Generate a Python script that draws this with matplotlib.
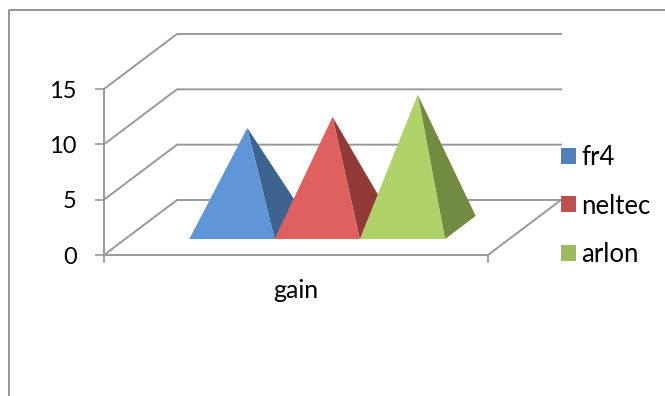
import matplotlib
matplotlib.use('Agg')
import matplotlib.pyplot as plt
from matplotlib.lines import Line2D
from matplotlib.patches import Patch, Polygon

# ----------------------- DATA -----------------------
categories = ['gain']
series_names = ['fr4', 'neltec', 'arlon']
series_values = [9, 10, 12]
value_ticks = [0, 5, 10, 15]

# ----------------------- STYLE ----------------------
legend_colors = ['#4f81bd', '#c0504d', '#9bbb59']
front_colors = ['#5f96d8', '#df605e', '#afd268']
side_colors = ['#3d6490', '#923a38', '#718b41']
grid_color = '#999999'
frame_color = '#8c8c8c'

W, H = 665, 396
plt.rcParams['font.family'] = ['Lato', 'DejaVu Sans']

fig = plt.figure(figsize=(W / 100, H / 100), dpi=100)
ax = fig.add_axes([104 / W, 1 - 255 / H, 384 / W, 166 / H])
ax.set_xlim(0, 1)
ax.set_ylim(0, 15)
ax.patch.set_visible(False)

# oblique depth offset of the 3d box, in data units
depth_x = 73 / 384
depth_y = 55 / (166 / 15)


def project(x, y, d):
    return x + d * depth_x, y + d * depth_y


# outer chart frame, runs off the right and bottom edges
fig.add_artist(Line2D([9 / W, 9 / W, 1], [0, 1 - 10 / H, 1 - 10 / H],
                      color=frame_color, lw=1.3))

# back wall and side wall grid lines
for v in value_ticks:
    bx, by = project(0, v, 1)
    ex, ey = project(1, v, 1)
    ax.plot([0, bx, ex], [v, by, ey], color=grid_color, lw=1.4,
            clip_on=False, solid_joinstyle='miter', zorder=1)

# floor edge on the right
fx, fy = project(1, 0, 1)
ax.plot([1, fx], [0, fy], color=grid_color, lw=1.4, clip_on=False, zorder=1)

# pyramids, left to right so each one covers the previous side face
gap = 0.167
width = (1 - 2 * gap) / len(series_values)
d_front, d_back = 0.29, 0.71
for i, value in enumerate(series_values):
    left = gap + i * width
    right = left + width
    apex = project(left + width / 2, value, 0.5)
    front_l = project(left, 0, d_front)
    front_r = project(right, 0, d_front)
    back_r = project(right, 0, d_back)
    z = 3 + i
    ax.add_patch(Polygon([front_r, back_r, apex], closed=True, fc=side_colors[i],
                         ec='none', clip_on=False, zorder=z))
    ax.add_patch(Polygon([front_l, front_r, apex], closed=True, fc=front_colors[i],
                         ec='none', clip_on=False, zorder=z))

# axes
for s in ['top', 'right']:
    ax.spines[s].set_visible(False)
for s in ['left', 'bottom']:
    ax.spines[s].set_color(grid_color)
    ax.spines[s].set_linewidth(1.4)
ax.set_yticks(value_ticks)
ax.set_xticks([0, 1])
ax.set_xticklabels([])
ax.set_xticks([0.5], labels=categories, minor=True)
ax.tick_params(axis='y', length=6.5, width=1.2, color=grid_color, labelsize=17,
               pad=13, labelcolor='black')
ax.tick_params(axis='x', which='major', length=5.5, width=1.2, color=grid_color)
ax.tick_params(axis='x', which='minor', length=0, labelsize=18, pad=17, labelcolor='black')

# legend
handles = [Patch(fc=c, ec='none', label=n) for c, n in zip(legend_colors, series_names)]
fig.legend(handles=handles, loc='center left', bbox_to_anchor=(561 / W, 1 - 206 / H),
           frameon=False, fontsize=18.5, handlelength=0.58, handleheight=0.58,
           handletextpad=0.2, labelspacing=0.93, borderpad=0, borderaxespad=0)

fig.savefig('out.png', dpi=100)
